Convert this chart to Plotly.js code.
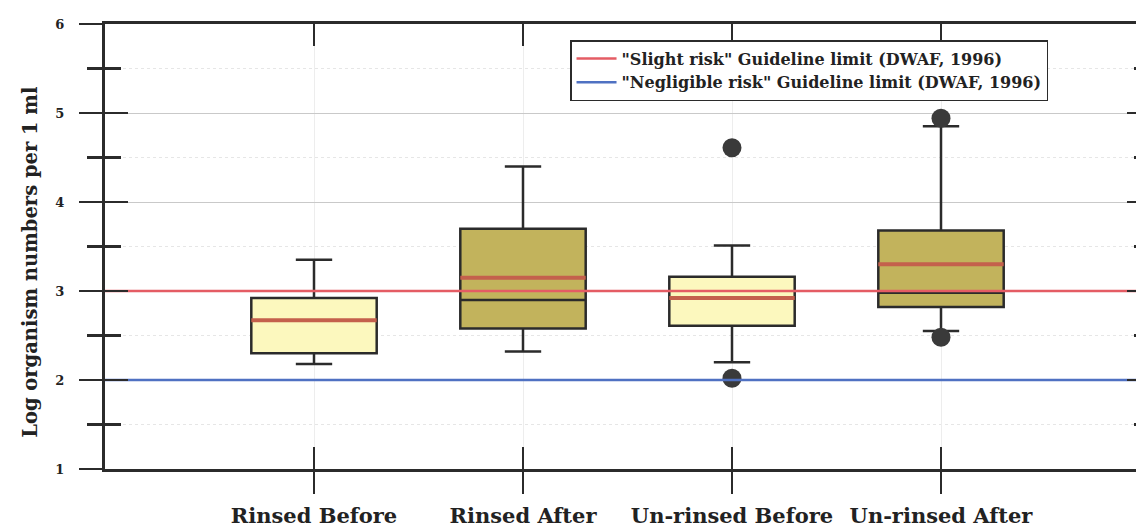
<!DOCTYPE html>
<html>
<head>
<meta charset="utf-8">
<script src="https://cdn.plot.ly/plotly-3.0.1.min.js"></script>
<style>
html, body { margin: 0; padding: 0; overflow: hidden; background: #fff; }
#chart { width: 1150px; height: 531px; }
</style>
</head>
<body>
<div id="chart"></div>
<script>
// ---- data ----
const categories = ['Rinsed Before', 'Rinsed After', 'Un-rinsed Before', 'Un-rinsed After'];
const q1Values = [2.30, 2.58, 2.61, 2.82];
const medianValues = [2.67, 2.90, 2.92, 2.98];
const q3Values = [2.92, 3.70, 3.16, 3.68];
const meanValues = [2.67, 3.15, 2.92, 3.30];
const lowerWhisker = [2.18, 2.32, 2.20, 2.55];
const upperWhisker = [3.35, 4.40, 3.51, 4.85];
const outlierCategory = ['Un-rinsed Before', 'Un-rinsed Before', 'Un-rinsed After', 'Un-rinsed After'];
const outlierValue = [4.61, 2.02, 4.94, 2.48];
const guidelineNames = ['"Slight risk" Guideline limit (DWAF, 1996)', '"Negligible risk" Guideline limit (DWAF, 1996)'];
const guidelineValues = [3, 2];
const yTickValues = [1, 2, 3, 4, 5, 6];
const yTitle = 'Log organism numbers per 1 ml';

// ---- styles ----
const FONT = 'DejaVu Serif, Liberation Serif, serif';
const INK = '#2b2b2b';
const guidelineColors = ['#E45C64', '#4F71C2'];
const lightFill = '#FCF8BE';
const oliveFill = '#C2B35C';
const meanColor = '#C4604C';
const xRange = [-1, 4];

const idx = categories.map((c, i) => i);
const pick = (arr, ids) => ids.map(i => arr[i]);
const beforeIds = idx.filter(i => categories[i].indexOf('Before') >= 0);
const afterIds = idx.filter(i => categories[i].indexOf('After') >= 0);

function boxTrace(ids, fill) {
  return {
    type: 'box',
    x: pick(idx, ids),
    q1: pick(q1Values, ids),
    median: pick(medianValues, ids),
    q3: pick(q3Values, ids),
    lowerfence: pick(lowerWhisker, ids),
    upperfence: pick(upperWhisker, ids),
    fillcolor: fill,
    line: { color: INK, width: 2.5 },
    whiskerwidth: 0.29,
    width: 0.6,
    boxpoints: false,
    showlegend: false,
    hoverinfo: 'skip'
  };
}

const traces = [
  boxTrace(beforeIds, lightFill),
  boxTrace(afterIds, oliveFill),
  {
    type: 'box',
    x: idx,
    q1: meanValues, median: meanValues, q3: meanValues,
    lowerfence: meanValues, upperfence: meanValues,
    fillcolor: 'rgba(0,0,0,0)',
    line: { color: meanColor, width: 4 },
    whiskerwidth: 0,
    width: 0.6,
    boxpoints: false,
    showlegend: false,
    hoverinfo: 'skip'
  },
  {
    type: 'scatter',
    mode: 'markers',
    x: outlierCategory.map(c => categories.indexOf(c)),
    y: outlierValue,
    marker: { color: '#3a3a3a', size: 19, line: { width: 0 } },
    showlegend: false,
    hoverinfo: 'skip'
  }
];

guidelineValues.forEach((v, i) => {
  traces.push({
    type: 'scatter',
    mode: 'lines',
    xaxis: 'x2', yaxis: 'y2',
    x: xRange,
    y: [v, v],
    name: guidelineNames[i],
    line: { color: guidelineColors[i], width: 2.5 },
    hoverinfo: 'skip'
  });
});

const layout = {
  width: 1150, height: 531,
  margin: { l: 105, r: 0, t: 24, b: 62 },
  paper_bgcolor: '#ffffff',
  plot_bgcolor: '#ffffff',
  boxmode: 'overlay',
  showlegend: true,
  xaxis: {
    range: xRange,
    tickmode: 'array', tickvals: idx, ticktext: categories,
    ticks: 'outside', ticklen: 22, tickwidth: 2, tickcolor: INK,
    showline: true, linewidth: 3, linecolor: INK, mirror: true,
    showgrid: true, gridcolor: '#ededed', gridwidth: 1,
    zeroline: false,
    ticklabelstandoff: 4,
    tickfont: { family: FONT, size: 21, color: '#222', weight: 'bold' }
  },
  yaxis: {
    range: [1, 6],
    tickmode: 'array', tickvals: yTickValues,
    ticks: 'outside', ticklen: 23, tickwidth: 2.5, tickcolor: INK,
    showline: true, linewidth: 3, linecolor: INK, mirror: true,
    showgrid: true, gridcolor: '#c9c9c9', gridwidth: 1,
    zeroline: false,
    minor: { dtick: 0.5, tick0: 1, ticks: 'outside', ticklen: 15, tickwidth: 2.5, tickcolor: INK,
             showgrid: true, gridcolor: '#e6e6e6', griddash: 'dot', gridwidth: 1 },
    ticklabelstandoff: 12,
    tickfont: { family: FONT, size: 13, color: '#222', weight: 'bold' }
  },
  xaxis2: {
    overlaying: 'x', anchor: 'y2',
    range: xRange,
    tickmode: 'array', tickvals: idx,
    ticks: 'inside', ticklen: 22, tickwidth: 2, tickcolor: INK,
    showline: true, linewidth: 3, linecolor: INK, mirror: 'ticks',
    showticklabels: false, showgrid: false, zeroline: false
  },
  yaxis2: {
    overlaying: 'y', anchor: 'x2',
    range: [1, 6],
    tickmode: 'array', tickvals: yTickValues,
    ticks: 'inside', ticklen: 23, tickwidth: 2.5, tickcolor: INK,
    showline: true, linewidth: 3, linecolor: INK, mirror: 'ticks',
    minor: { dtick: 0.5, tick0: 1, ticks: 'inside', ticklen: 16, tickwidth: 2.5, tickcolor: INK },
    showticklabels: false, showgrid: false, zeroline: false
  },
  annotations: [{
    text: yTitle,
    xref: 'paper', yref: 'paper',
    x: -0.072, y: 0.465,
    xanchor: 'center', yanchor: 'middle',
    textangle: -90, showarrow: false,
    font: { family: FONT, size: 19.5, color: '#222', weight: 'bold' }
  }],
  legend: {
    x: 0.445, y: 0.964, xanchor: 'left', yanchor: 'top',
    bgcolor: '#ffffff', bordercolor: INK, borderwidth: 1.5,
    itemwidth: 40, tracegroupgap: 0,
    font: { family: FONT, size: 16, color: '#222', weight: 'bold' }
  }
};

Plotly.newPlot('chart', traces, layout, { staticPlot: true, displayModeBar: false });
</script>
</body>
</html>
